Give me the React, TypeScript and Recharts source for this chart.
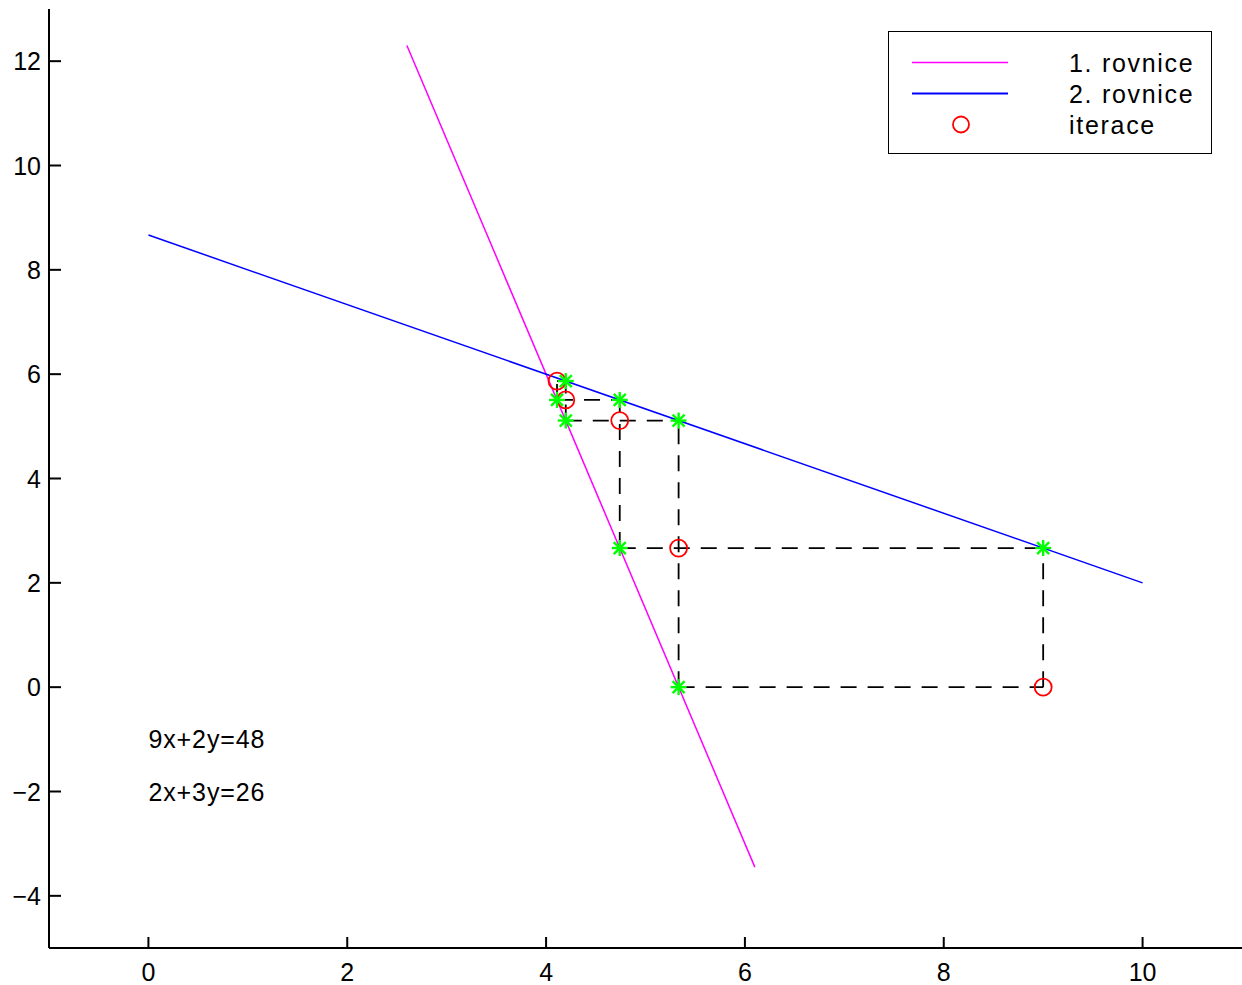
import React from 'react';
import { ComposedChart, Scatter, XAxis, YAxis } from 'recharts';

// ---- data ----
const line1X = [2.6, 6.1];
const line1Y = [12.3, -3.45];
const line2X = [0, 10];
const line2Y = [8.667, 2.0];
const iterX = [9, 5.333, 4.741, 4.198, 4.11];
const iterY = [0, 2.667, 5.111, 5.506, 5.868];
const xTicks = [0, 2, 4, 6, 8, 10];
const yTicks = [-4, -2, 0, 2, 4, 6, 8, 10, 12];
const notes = ['9x+2y=48', '2x+3y=26'];
const notesY = [-1, -2];
const notesX = [0, 0];
const legendNames = ['1. rovnice', '2. rovnice', 'iterace'];

const FONT = '"Liberation Sans", Arial, Helvetica, sans-serif';
const FS = 25;
const n = iterX.length;

const line1 = line1X.map((x, i) => ({ x, y: line1Y[i] }));
const line2 = line2X.map((x, i) => ({ x, y: line2Y[i] }));
const circles = iterX.map((x, i) => ({ x, y: iterY[i] }));
const stars1 = iterX.slice(1).map((x, i) => ({ x, y: iterY[i] }));
const stars2 = iterY.slice(1).map((y, i) => ({ x: iterX[i], y }));
const stars = [...stars1, ...stars2];
const hSegs = iterY.map((y, k) => [
  { x: iterX[Math.min(k + 1, n - 1)], y },
  { x: iterX[Math.max(k - 1, 0)], y },
]);
const vSegs = iterX.map((x, k) => [
  { x, y: iterY[Math.max(k - 1, 0)] },
  { x, y: iterY[Math.min(k + 1, n - 1)] },
]);
const noteData = notes.map((t, i) => ({ x: notesX[i], y: notesY[i], t }));

const fmt = (v: number) => (v < 0 ? '\u2212' + Math.abs(v) : String(v));

const XTick = (props: any) => {
  const { x, y, payload } = props;
  return (
    <g>
      <line x1={x} x2={x} y1={y} y2={y - 11} stroke="#000" strokeWidth={2} />
      <text x={x} y={y + 24} textAnchor="middle" dominantBaseline="central" fontFamily={FONT} fontSize={FS} fill="#000">
        {fmt(payload.value)}
      </text>
    </g>
  );
};

const YTick = (props: any) => {
  const { x, y, payload } = props;
  return (
    <g>
      <line x1={x} x2={x + 12} y1={y} y2={y} stroke="#000" strokeWidth={2} />
      <text x={x - 8} y={y} textAnchor="end" dominantBaseline="central" fontFamily={FONT} fontSize={FS} fill="#000">
        {fmt(payload.value)}
      </text>
    </g>
  );
};

const Nothing = () => <g />;

const Circle = (p: any) => (
  <circle cx={p.cx} cy={p.cy} r={8.5} fill="none" stroke="#ff0000" strokeWidth={1.8} />
);

const Star = (p: any) => {
  const { cx, cy } = p;
  const r = 8;
  const d = 6;
  return (
    <g stroke="#00ff00" strokeWidth={2.4}>
      <line x1={cx - r} x2={cx + r} y1={cy} y2={cy} />
      <line x1={cx} x2={cx} y1={cy - r} y2={cy + r} />
      <line x1={cx - d} x2={cx + d} y1={cy - d} y2={cy + d} />
      <line x1={cx - d} x2={cx + d} y1={cy + d} y2={cy - d} />
    </g>
  );
};

const Note = (p: any) => (
  <text
    x={p.cx}
    y={p.cy}
    textAnchor="start"
    dominantBaseline="central"
    fontFamily={FONT}
    fontSize={FS}
    letterSpacing={0.9}
    fill="#000"
  >
    {p.payload.t}
  </text>
);

const Legend = () => (
  <div
    style={{
      position: 'absolute',
      left: 888,
      top: 31,
      width: 322,
      height: 121,
      border: '1.5px solid #000',
      background: '#fff',
    }}
  >
    <svg width={322} height={121} style={{ display: 'block' }}>
      <line x1={23} x2={119} y1={30.5} y2={30.5} stroke="#ff00ff" strokeWidth={1.5} />
      <line x1={23} x2={119} y1={61.5} y2={61.5} stroke="#0000ff" strokeWidth={2} />
      <circle cx={72} cy={92.5} r={8} fill="none" stroke="#ff0000" strokeWidth={1.8} />
      {legendNames.map((name, i) => (
        <text
          key={name}
          x={180}
          y={31 + i * 31}
          dominantBaseline="central"
          fontFamily={FONT}
          fontSize={FS}
          letterSpacing={1.7}
          fill="#000"
        >
          {name}
        </text>
      ))}
    </svg>
  </div>
);

export default function App() {
  return (
    <div style={{ position: 'absolute', left: 0, top: 0, width: 1242, height: 985, background: '#fff' }}>
      <ComposedChart width={1242} height={985} margin={{ top: 9, right: 0, left: 0, bottom: 0 }}>
        <XAxis
          type="number"
          dataKey="x"
          domain={[-1, 11]}
          ticks={xTicks}
          height={37}
          tickSize={0}
          tickMargin={0}
          tickLine={false}
          axisLine={{ stroke: '#000', strokeWidth: 2 }}
          tick={<XTick />}
          interval={0}
        />
        <YAxis
          type="number"
          dataKey="y"
          domain={[-5, 13]}
          ticks={yTicks}
          width={49}
          tickSize={0}
          tickMargin={0}
          tickLine={false}
          axisLine={{ stroke: '#000', strokeWidth: 2 }}
          tick={<YTick />}
          interval={0}
        />
        <Scatter data={line1} line={{ stroke: '#ff00ff', strokeWidth: 1.5 }} shape={<Nothing />} isAnimationActive={false} />
        <Scatter data={line2} line={{ stroke: '#0000ff', strokeWidth: 1.5 }} shape={<Nothing />} isAnimationActive={false} />
        {hSegs.map((seg, i) => (
          <Scatter
            key={'h' + i}
            data={seg}
            line={{ stroke: '#000', strokeWidth: 1.8, strokeDasharray: '16 11' }}
            shape={<Nothing />}
            isAnimationActive={false}
          />
        ))}
        {vSegs.map((seg, i) => (
          <Scatter
            key={'v' + i}
            data={seg}
            line={{ stroke: '#000', strokeWidth: 1.8, strokeDasharray: '16 11' }}
            shape={<Nothing />}
            isAnimationActive={false}
          />
        ))}
        <Scatter data={circles} shape={<Circle />} isAnimationActive={false} />
        <Scatter data={stars} shape={<Star />} isAnimationActive={false} />
        <Scatter data={noteData} shape={<Note />} isAnimationActive={false} />
      </ComposedChart>
      <Legend />
    </div>
  );
}
